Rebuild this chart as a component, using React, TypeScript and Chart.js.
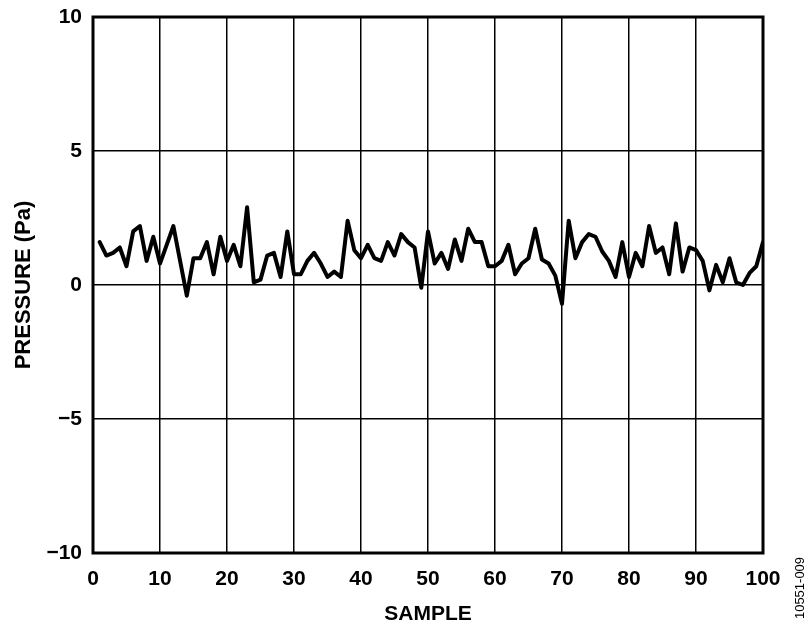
import React, { useEffect, useRef } from "react";
import { Chart, registerables } from "chart.js";

Chart.register(...registerables);

const samples: number[] = Array.from({ length: 100 }, (_, i) => i + 1);
const pressure: number[] = [
  1.6, 1.1, 1.2, 1.4, 0.7, 2.0, 2.2, 0.9, 1.8, 0.8,
  1.5, 2.2, 0.9, -0.4, 1.0, 1.0, 1.6, 0.4, 1.8, 0.9,
  1.5, 0.7, 2.9, 0.1, 0.2, 1.1, 1.2, 0.3, 2.0, 0.4,
  0.4, 0.9, 1.2, 0.8, 0.3, 0.5, 0.3, 2.4, 1.3, 1.0,
  1.5, 1.0, 0.9, 1.6, 1.1, 1.9, 1.6, 1.4, -0.1, 2.0,
  0.8, 1.2, 0.6, 1.7, 0.9, 2.1, 1.6, 1.6, 0.7, 0.7,
  0.9, 1.5, 0.4, 0.8, 1.0, 2.1, 0.95, 0.8, 0.35, -0.7,
  2.4, 1.0, 1.6, 1.9, 1.8, 1.25, 0.9, 0.3, 1.6, 0.3,
  1.2, 0.7, 2.2, 1.2, 1.4, 0.4, 2.3, 0.5, 1.4, 1.3,
  0.9, -0.2, 0.75, 0.1, 1.0, 0.1, 0.0, 0.45, 0.7, 1.6,
];
const xTicks: number[] = [0, 10, 20, 30, 40, 50, 60, 70, 80, 90, 100];
const yTicks: number[] = [-10, -5, 0, 5, 10];
const xTitle = "SAMPLE";
const yTitle = "PRESSURE (Pa)";
const figureId = "10551-009";

const FONT = "'Liberation Sans', Arial, Helvetica, sans-serif";

const fmt = (v: number) => (v < 0 ? "\u2212" + Math.abs(v) : String(v));

const frameAndLabel = {
  id: "frameAndLabel",
  afterDraw(chart: any) {
    const { ctx, chartArea } = chart;
    ctx.save();
    ctx.strokeStyle = "#000";
    ctx.lineWidth = 3;
    ctx.strokeRect(
      chartArea.left,
      chartArea.top,
      chartArea.right - chartArea.left,
      chartArea.bottom - chartArea.top
    );
    ctx.translate(800, 588);
    ctx.rotate(-Math.PI / 2);
    ctx.fillStyle = "#000";
    ctx.font = `13px ${FONT}`;
    ctx.textAlign = "center";
    ctx.textBaseline = "middle";
    ctx.fillText(figureId, 0, 0);
    ctx.restore();
  },
};

export default function App() {
  const ref = useRef<HTMLCanvasElement | null>(null);
  useEffect(() => {
    document.body.style.margin = "0";
    const canvas = ref.current;
    if (!canvas) return;
    const chart = new Chart(canvas, {
      type: "line",
      data: {
        datasets: [
          {
            data: samples.map((s, i) => ({ x: s, y: pressure[i] })),
            borderColor: "#000",
            borderWidth: 4,
            pointRadius: 0,
            tension: 0,
            fill: false,
            borderJoinStyle: "round",
            borderCapStyle: "round",
          },
        ],
      },
      options: {
        responsive: false,
        animation: false,
        layout: { padding: { top: 17, right: 47, left: 0, bottom: 0 } },
        plugins: {
          legend: { display: false },
          tooltip: { enabled: false },
        },
        scales: {
          x: {
            type: "linear",
            min: 0,
            max: 100,
            afterFit: (s: any) => {
              s.height = 73;
              s.paddingLeft = 0;
              s.paddingRight = 0;
            },
            afterBuildTicks: (s: any) => {
              s.ticks = xTicks.map((v) => ({ value: v }));
            },
            ticks: {
              color: "#000",
              padding: 14,
              maxRotation: 0,
              font: { family: FONT, size: 21, weight: "bold" },
              callback: (v: any) => fmt(Number(v)),
            },
            grid: { color: "#000", lineWidth: 1.5, drawTicks: false },
            border: { display: false },
            title: {
              display: true,
              text: xTitle,
              color: "#000",
              padding: { top: 0, bottom: 1 },
              font: { family: FONT, size: 21, weight: "bold", lineHeight: 1 },
            },
          },
          y: {
            type: "linear",
            min: -10,
            max: 10,
            afterFit: (s: any) => {
              s.width = 93;
              s.paddingTop = 0;
              s.paddingBottom = 0;
            },
            afterBuildTicks: (s: any) => {
              s.ticks = yTicks.map((v) => ({ value: v }));
            },
            ticks: {
              color: "#000",
              padding: 11,
              font: { family: FONT, size: 21, weight: "bold" },
              callback: (v: any) => fmt(Number(v)),
            },
            grid: { color: "#000", lineWidth: 1.5, drawTicks: false },
            border: { display: false },
            title: {
              display: true,
              text: yTitle,
              color: "#000",
              padding: { top: 11, bottom: 0 },
              font: { family: FONT, size: 22, weight: "bold", lineHeight: 1.2 },
            },
          },
        },
      },
      plugins: [frameAndLabel],
    } as any);
    return () => chart.destroy();
  }, []);
  return (
    <div style={{ width: 810, height: 626, background: "#fff" }}>
      <canvas ref={ref} width={810} height={626} />
    </div>
  );
}
